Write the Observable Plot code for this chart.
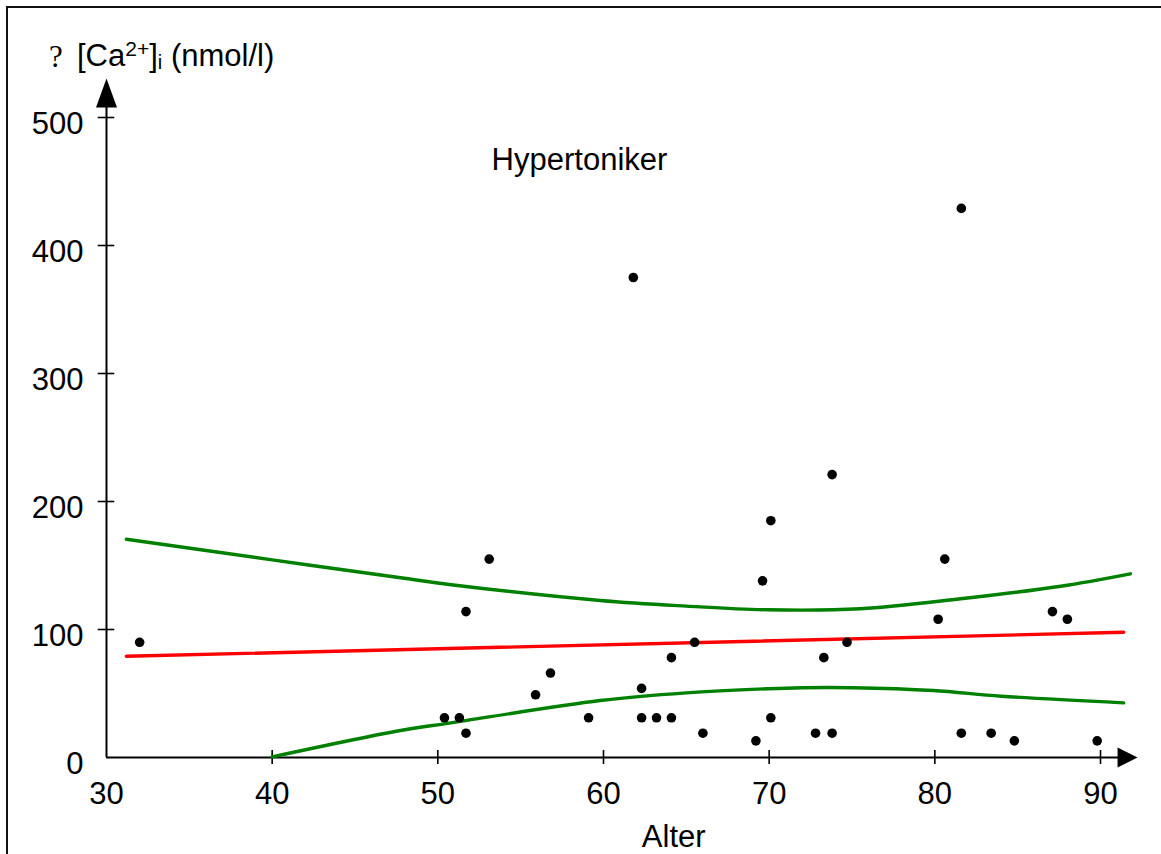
<!DOCTYPE html>
<html>
<head>
<meta charset="utf-8">
<script src="https://cdn.jsdelivr.net/npm/d3@7"></script>
<script src="https://cdn.jsdelivr.net/npm/@observablehq/plot@0.6"></script>
<style>
  html, body { margin: 0; padding: 0; background: white; }
  #wrap { position: relative; width: 1161px; height: 854px; overflow: hidden; background: white; }
  #frame { position: absolute; left: 6px; top: 6px; right: -10px; bottom: -10px;
           border-left: 2px solid #111; border-top: 2px solid #111; pointer-events: none; }
  .ytitle { position: absolute; top: 41px; font-family: "Liberation Sans", Arial, sans-serif;
            font-size: 31px; line-height: 30px; color: black; white-space: nowrap; }
  .q { left: 49px; font-family: "Liberation Serif", "Times New Roman", serif; font-size: 31px; top: 42px; }
  .main { left: 77px; }
  .sup { font-size: 21px; position: relative; top: -10px; }
  .sub { font-size: 20px; position: relative; top: 3px; }
</style>
</head>
<body>
<div id="wrap">
  <div id="chart"></div>
  <div id="frame"></div>
  <div class="ytitle q">?</div>
  <div class="ytitle main">[Ca<span class="sup">2+</span>]<span class="sub">i</span> (nmol/l)</div>
</div>
<script>
// Data
const ages = [32.0, 50.4, 51.3, 51.7, 51.7, 53.1, 55.9, 56.8, 59.1, 61.8, 62.3, 62.3, 63.2, 64.1, 64.1,
              65.5, 66.0, 69.2, 69.6, 70.1, 70.1, 72.8, 73.3, 73.8, 73.8, 74.7, 80.2, 80.6, 81.6, 81.6,
              83.4, 84.8, 87.1, 88.0, 89.8];
const calcium = [90, 31, 31, 114, 19, 155, 49, 66, 31, 375, 54, 31, 31, 31, 78,
                 90, 19, 13, 138, 185, 31, 19, 78, 19, 221, 90, 108, 155, 429, 19,
                 19, 13, 114, 108, 13];

// Regression line (red)
const regX = [31.2, 91.4];
const regY = [79.1, 97.8];

// Upper confidence curve (green)
const upperX = [31.2, 40.0, 47.75, 50.8, 59.8, 65.0, 69.9, 75.5, 81.55, 87.6, 91.8];
const upperY = [170.5, 154.4, 140.4, 135.0, 122.7, 118.3, 115.4, 116.2, 124.0, 133.8, 143.5];

// Lower confidence curve (green)
const lowerX = [40.0, 47.75, 50.8, 59.8, 65.0, 69.9, 72.0, 75.0, 79.9, 84.0, 91.4];
const lowerY = [0.5, 21.1, 27.1, 44.5, 50.5, 53.7, 54.5, 54.5, 52.3, 47.9, 42.7];

// Ticks
const xTickLabels = [30, 40, 50, 60, 70, 80, 90];
const xTickMarks = [40, 50, 60, 70, 80, 90];
const yTickLabels = [0, 100, 200, 300, 400, 500];
const yTickMarks = [100, 200, 300, 400, 500];

const groupLabel = "Hypertoniker";
const xLabel = "Alter";

const points = ages.map((a, i) => ({age: a, ca: calcium[i]}));
const reg = regX.map((x, i) => ({x, y: regY[i]}));
const upper = upperX.map((x, i) => ({x, y: upperY[i]}));
const lower = lowerX.map((x, i) => ({x, y: lowerY[i]}));

const arrowUp = {draw(ctx) { ctx.moveTo(0, -29); ctx.lineTo(10.5, 0); ctx.lineTo(-10.5, 0); ctx.closePath(); }};
const arrowRight = {draw(ctx) { ctx.moveTo(20, 0); ctx.lineTo(0, -10); ctx.lineTo(0, 10); ctx.closePath(); }};

const chart = Plot.plot({
  width: 1161,
  height: 854,
  marginLeft: 106,
  marginRight: 61,
  marginTop: 117,
  marginBottom: 97,
  x: {domain: [30, 90]},
  y: {domain: [0, 500]},
  style: {fontFamily: "'Liberation Sans', Arial, sans-serif", fontSize: "31px", color: "black", background: "transparent", overflow: "visible"},
  marks: [
    // axis lines with arrowheads
    Plot.ruleX([30], {y1: 0, y2: 507.8, stroke: "black", strokeWidth: 2}),
    Plot.ruleY([0], {x1: 30, x2: 91.1, stroke: "black", strokeWidth: 2}),
    Plot.dot([0], {x: () => 30, y: () => 507.8, symbol: arrowUp, fill: "black", stroke: "none", r: 5}),
    Plot.dot([0], {x: () => 91.03, y: () => 0, symbol: arrowRight, fill: "black", stroke: "none", r: 5}),
    // tick marks crossing the axes
    Plot.ruleY(yTickMarks, {y: d => d, x1: 29.5, x2: 30.5, stroke: "black", strokeWidth: 1.6}),
    Plot.ruleX(xTickMarks, {x: d => d, y1: -5.5, y2: 5.5, stroke: "black", strokeWidth: 1.6}),
    // tick labels
    Plot.axisX({ticks: xTickLabels, tickSize: 0, tickPadding: 24, fontSize: 31, label: null, tickFormat: d => String(d)}),
    Plot.axisY({ticks: yTickLabels, tickSize: 0, tickPadding: 23, fontSize: 31, label: null, dy: 7, tickFormat: d => String(d)}),
    // curves
    Plot.line(upper, {x: "x", y: "y", curve: "catmull-rom", stroke: "#008000", strokeWidth: 3.4}),
    Plot.line(lower, {x: "x", y: "y", curve: "catmull-rom", stroke: "#008000", strokeWidth: 3.4}),
    Plot.line(reg, {x: "x", y: "y", stroke: "#ff0000", strokeWidth: 3.4}),
    // data points
    Plot.dot(points, {x: "age", y: "ca", r: 4.8, fill: "black", stroke: "none"}),
    // annotations
    Plot.text([groupLabel], {x: () => 58.55, y: () => 467, text: d => d, fontSize: 31, fill: "black"}),
    Plot.text([xLabel], {x: () => 64.24, y: () => -62, text: d => d, fontSize: 31, fill: "black"})
  ]
});
document.getElementById("chart").appendChild(chart);
</script>
</body>
</html>
